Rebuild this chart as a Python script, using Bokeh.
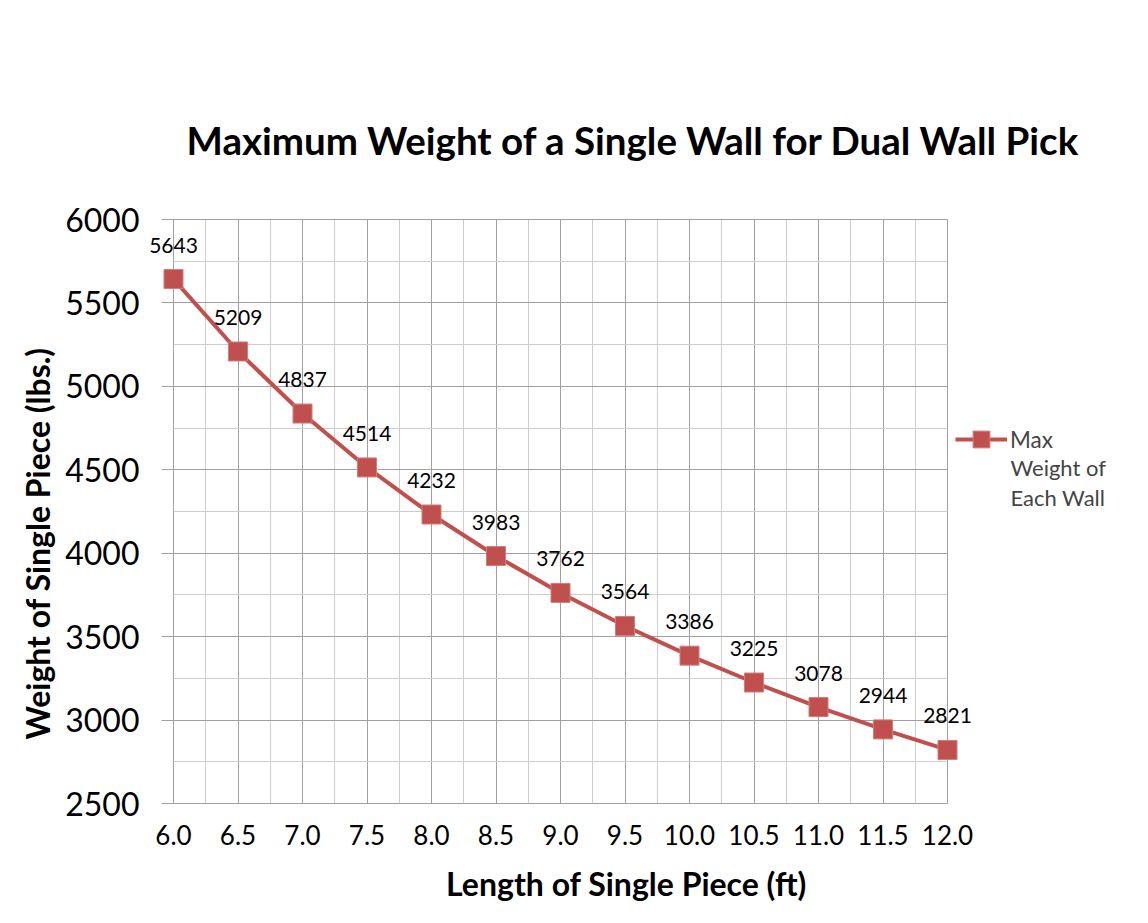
from bokeh.plotting import figure
from bokeh.models import (Range1d, FixedTicker, Legend, LegendItem, Label,
                          ColumnDataSource, Grid, Title, LinearAxis)
from bokeh.core.properties import value
from bokeh.embed import file_html
from bokeh.resources import INLINE

# ---- data ----
lengths = [6.0, 6.5, 7.0, 7.5, 8.0, 8.5, 9.0, 9.5, 10.0, 10.5, 11.0, 11.5, 12.0]
weights = [5643, 5209, 4837, 4514, 4232, 3983, 3762, 3564, 3386, 3225, 3078, 2944, 2821]
x_tick_labels = ["6.0", "6.5", "7.0", "7.5", "8.0", "8.5", "9.0", "9.5",
                 "10.0", "10.5", "11.0", "11.5", "12.0"]
x_minor = [6.25, 6.75, 7.25, 7.75, 8.25, 8.75, 9.25, 9.75, 10.25, 10.75, 11.25, 11.75]
y_major = [2500, 3000, 3500, 4000, 4500, 5000, 5500, 6000]
y_minor = [2750, 3250, 3750, 4250, 4750, 5250, 5750]
series_name = ["Max", "Weight of", "Each Wall"]
title_text = "Maximum Weight of a Single Wall for Dual Wall Pick"
x_title = "Length of Single Piece (ft)"
y_title = "Weight of Single Piece (lbs.)"

RED = "#C0504D"
MAJOR = "#A0A0A0"
MINOR = "#CDCDCD"
FONT = "Lato"

# ---- geometry (pixels) ----
W, H = 1132, 907
X0, X1 = lengths[0], lengths[-1]
Y0, Y1 = y_major[0], y_major[-1]
PX_X = 129.0              # px per x unit
PX_Y = 584.0 / (Y1 - Y0)  # px per y unit
LEFT_PAD = 31             # frame extends this far left of first category
RIGHT_PAD = 163           # frame extends right of last category (legend room)
TICK = 12                 # y major tick length
x_start = X0 - LEFT_PAD / PX_X
x_end = X1 + RIGHT_PAD / PX_X
y_start = Y0 - 1 / PX_Y
y_end = Y1 + 1 / PX_Y

src = ColumnDataSource(dict(x=lengths, y=weights, t=[str(w) for w in weights]))

p = figure(width=W, height=H, output_backend="svg", toolbar_location=None,
           x_range=Range1d(x_start, x_end), y_range=Range1d(y_start, y_end),
           min_border_left=142, min_border_right=22, min_border_top=218,
           min_border_bottom=103)
p.styles = {"border-left": "2px solid #8c8c8c", "border-top": "2px solid #8c8c8c",
            "margin-left": "-2px", "margin-top": "-2px"}
p.background_fill_color = "white"
p.border_fill_color = "white"
p.outline_line_color = None

# title
p.title.text = title_text
p.title.text_font = FONT
p.title.text_font_size = "38.5px"
p.title.text_font_style = "bold"
p.title.text_color = "black"
p.title.align = "left"
p.title.offset = 44
p.title.standoff = 111

# axes
xt = FixedTicker(ticks=lengths, minor_ticks=x_minor)
yt = FixedTicker(ticks=y_major, minor_ticks=y_minor)
p.xaxis.ticker = xt
p.yaxis.ticker = yt
p.xaxis.major_label_overrides = {v: s for v, s in zip(lengths, x_tick_labels)}

for ax in (p.xaxis[0], p.yaxis[0]):
    ax.minor_tick_line_color = None
    ax.major_tick_in = 0
    ax.major_tick_out = 0
    ax.major_tick_line_color = None
    ax.axis_line_color = None
    ax.major_label_text_font = FONT
    ax.major_label_text_color = "black"

p.xaxis.bounds = (X0, X1)
p.xaxis.major_label_text_font_size = "26px"
p.xaxis.major_label_standoff = 16

p.yaxis.major_label_text_font_size = "32px"
p.yaxis.major_label_standoff = -1

# x title: an empty axis below the tick labels
title_axis = LinearAxis(ticker=FixedTicker(ticks=[]), bounds=(X0, X1),
                        axis_line_color=None, major_tick_out=0, major_tick_in=0,
                        minor_tick_out=0, minor_tick_in=0, major_label_standoff=0,
                        axis_label=x_title, axis_label_standoff=16,
                        axis_label_text_font=FONT, axis_label_text_font_size="32px",
                        axis_label_text_font_style="bold",
                        axis_label_text_color="black")
p.add_layout(title_axis, "below")

# y title
ytitle = Title(text=y_title, text_font=FONT, text_font_size="32px",
               text_font_style="bold", text_color="black",
               align="left", offset=65, standoff=12)
p.add_layout(ytitle, "left")

# grids
xg = p.xgrid[0]
xg.ticker = xt
xg.bounds = (X0, X1)
xg.cross_bounds = (Y0, Y1)
xg.grid_line_color = MAJOR
xg.minor_grid_line_color = MINOR

yg = p.ygrid[0]
yg.ticker = yt
yg.cross_bounds = (X0 - TICK / PX_X, X1)
yg.grid_line_color = MAJOR
yg.minor_grid_line_color = None

yg_minor = Grid(dimension=1, ticker=yt, grid_line_color=None,
                minor_grid_line_color=MINOR, cross_bounds=(X0, X1))
p.add_layout(yg_minor, "center")

# series
ln = p.line("x", "y", source=src, line_color=RED, line_width=4)
sc = p.scatter("x", "y", source=src, marker="square", size=19,
               fill_color=RED, line_color="#D07C7A", line_width=1)
p.text("x", "y", text="t", source=src, text_font=value(FONT),
       text_font_size="21px", text_color="black", text_align="center",
       text_baseline="middle", y_offset=-34)

# legend
legend = Legend(items=[LegendItem(label=series_name[0], renderers=[ln, sc])],
                location=(LEFT_PAD + 6 * PX_X + 8, 344), padding=0, margin=0,
                spacing=0, glyph_width=52, glyph_height=42, label_standoff=3,
                label_text_font=FONT, label_text_font_size="22.5px",
                border_line_color=None, background_fill_alpha=0)
p.add_layout(legend, "center")

for txt, base_px in zip(series_name[1:], [475, 505]):
    yv = Y0 + (811 - base_px) / PX_Y
    p.add_layout(Label(x=X1, y=yv, x_offset=63, text=txt,
                       text_font=FONT, text_font_size="22px",
                       text_baseline="alphabetic", text_align="left"))

open("out.html", "w").write(file_html(p, INLINE))
